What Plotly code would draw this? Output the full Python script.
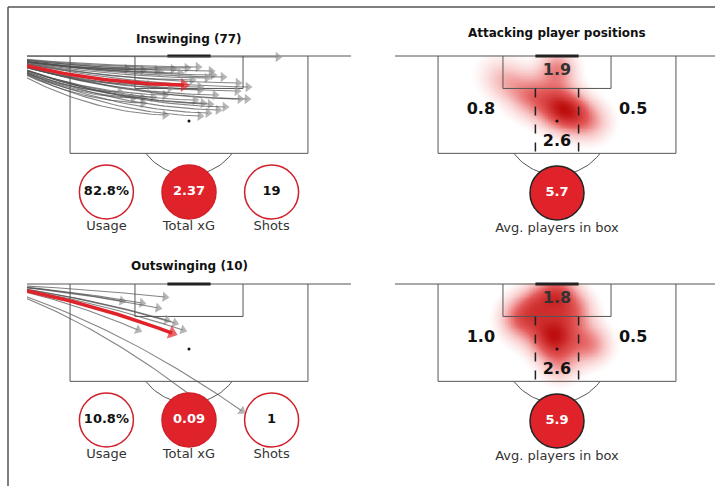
import numpy as np
import plotly.graph_objects as go

W, H = 715, 486
S = 5.9  # px per metre

# ---------------- data ----------------
# Inswinging corners: end points (metres from goal centre, metres from goal line)
in_end_x = [15.08, -10.51, -7.80, -5.42, -2.71, -0.34, 1.53, 3.73, 4.07, 5.76, 3.05, 0.51, 8.31,
            10.0, 1.86, 8.14, 1.86, -4.07, -6.10, -7.80, -9.49, 9.83, 8.64, 1.02, -7.80, 2.37,
            3.56, 4.92, -4.07, 1.86, 3.22, -4.92, -1.53, -6.61, -3.22, -11.69, 4.41, 6.10]
in_end_y = [0.17, 2.20, 2.37, 2.37, 2.20, 2.03, 1.86, 2.54, 3.22, 3.56, 3.73, 4.07, 4.58,
            5.25, 5.25, 5.93, 5.76, 6.61, 6.95, 7.12, 7.12, 7.29, 7.29, 7.46, 7.97, 7.97,
            8.14, 9.15, 10.0, 10.17, 9.66, 2.71, 2.88, 4.92, 5.42, 6.10, 6.61, 8.64]
in_avg_end = [-0.85, 4.92]

# Outswinging corners
out_end_x = [-4.07, -11.36, -7.97, -5.25, -3.73, -2.37, -1.02, -8.64, 1.53, 8.98]
out_end_y = [2.20, 2.88, 3.22, 4.07, 6.10, 6.61, 7.80, 7.80, 19.83, 21.53]
out_avg_end = [-2.88, 8.31]

stat_labels = ["Usage", "Total xG", "Shots"]
in_stats = ["82.8%", "2.37", "19"]
out_stats = ["10.8%", "0.09", "1"]
panel_titles = ["Inswinging (77)", "Outswinging (10)", "Attacking player positions"]

# zone averages: six-yard box, left, right, central
zone_names = ["six", "left", "right", "centre"]
in_zone_vals = [1.9, 0.8, 0.5, 2.6]
out_zone_vals = [1.8, 1.0, 0.5, 2.6]
avg_players = [5.7, 5.9]
avg_label = "Avg. players in box"

# heat hotspots (attacking player density)
in_hot_x = [0.0, 0.3, -8.8, -4.6, 6.0, -11.0, 3.0]
in_hot_y = [2.0, 8.6, 4.1, 6.6, 11.2, 2.5, 10.0]
in_hot_w = [0.65, 1.0, 0.35, 0.65, 0.40, 0.12, 0.55]
in_hot_s = [2.2, 2.6, 2.4, 2.6, 2.4, 3.0, 2.4]

out_hot_x = [0.0, -6.3, -0.7, 5.6, 3.0, 0.5, -3.5]
out_hot_y = [1.5, 5.8, 8.8, 10.2, 4.4, 13.8, 3.0]
out_hot_w = [0.65, 0.6, 1.0, 0.5, 0.45, 0.3, 0.45]
out_hot_s = [2.3, 2.5, 2.8, 2.4, 2.4, 2.2, 2.3]

# pitch geometry (metres)
HALF_W = 34.0
BOX_HW, BOX_D = 20.16, 16.5
SIX_HW, SIX_D = 9.16, 5.5
GOAL_HW = 3.66
SPOT = 11.0
ARC_R = 9.15
STAT_X = [-14.0, 0.0, 14.0]

RED = "#e0232a"
LINE = "#555555"
FONT = "DejaVu Sans"

fig = go.Figure()

# panel definitions: (goal-centre px x, goal line px y, left px, right px, top px, bottom px)
panels = {
    "1": (189, 56, 27, 351, 12, 240),
    "2": (557, 56, 395, 715, 12, 240),
    "3": (189, 284, 27, 351, 240, 468),
    "4": (557, 284, 395, 715, 240, 468),
}

layout_axes = {}
for k, (cx, gy, x0, x1, y0, y1) in panels.items():
    xa = "xaxis" if k == "1" else f"xaxis{k}"
    ya = "yaxis" if k == "1" else f"yaxis{k}"
    layout_axes[xa] = dict(domain=[x0 / W, x1 / W], range=[(x0 - cx) / S, (x1 - cx) / S],
                           visible=False, fixedrange=True, anchor="y" if k == "1" else f"y{k}")
    layout_axes[ya] = dict(domain=[1 - y1 / H, 1 - y0 / H], range=[(y1 - gy) / S, (y0 - gy) / S],
                           visible=False, fixedrange=True, anchor="x" if k == "1" else f"x{k}")


def ax(k):
    return ("x" if k == "1" else f"x{k}"), ("y" if k == "1" else f"y{k}")


def heat(k, hx, hy, hw, hs):
    xa, ya = ax(k)
    gx = np.arange(-17, 17.01, 0.25)
    gyv = np.arange(0, 21.01, 0.25)
    X, Y = np.meshgrid(gx, gyv)
    Z = np.zeros_like(X)
    for a, b, w, s in zip(hx, hy, hw, hs):
        Z += w * np.exp(-((X - a) ** 2 + (Y - b) ** 2) / (2 * s * s))
    Z = Z / Z.max()
    fig.add_trace(go.Heatmap(x=gx, y=gyv, z=Z, xaxis=xa, yaxis=ya, zmin=0.05, zmax=1,
                             zsmooth="best", showscale=False, hoverinfo="skip",
                             colorscale=[[0, "rgba(230,40,40,0)"], [0.25, "rgba(228,40,40,0.25)"],
                                         [0.6, "rgba(215,20,20,0.7)"], [1, "rgba(185,0,0,0.95)"]]))


def pitch(k, dashed=False):
    xa, ya = ax(k)
    ln = dict(color=LINE, width=1)
    def seg(xs, ys, line=ln):
        fig.add_trace(go.Scatter(x=xs, y=ys, mode="lines", line=line, xaxis=xa, yaxis=ya,
                                 hoverinfo="skip", showlegend=False))
    seg([-HALF_W, HALF_W], [0, 0])
    seg([-BOX_HW, -BOX_HW, BOX_HW, BOX_HW], [0, BOX_D, BOX_D, 0])
    seg([-SIX_HW, -SIX_HW, SIX_HW, SIX_HW], [0, SIX_D, SIX_D, 0])
    seg([-GOAL_HW, GOAL_HW], [0, 0], dict(color="#222", width=3))
    # penalty arc outside the box
    dy = BOX_D - SPOT
    a0 = np.arccos(dy / ARC_R)
    th = np.linspace(-a0, a0, 40)
    seg(list(ARC_R * np.sin(th)), list(SPOT + ARC_R * np.cos(th)))
    if dashed:
        for sx in (-GOAL_HW, GOAL_HW):
            seg([sx, sx], [SIX_D, BOX_D], dict(color="#222", width=1.5, dash="dash"))
    fig.add_trace(go.Scatter(x=[0], y=[SPOT], mode="markers", marker=dict(size=3, color="#111"),
                             xaxis=xa, yaxis=ya, hoverinfo="skip", showlegend=False))


def bezier(end, bend):
    sx, sy = -HALF_W, 0.0
    ex, ey = end
    cx, cy = sx + 0.5 * (ex - sx), bend * ey
    t = np.linspace(0, 1, 40)
    x = (1 - t) ** 2 * sx + 2 * t * (1 - t) * cx + t ** 2 * ex
    y = (1 - t) ** 2 * sy + 2 * t * (1 - t) * cy + t ** 2 * ey
    return x, y


def arrows(k, ex, ey, avg, bend):
    xa, ya = ax(k)
    for a, b in zip(ex, ey):
        x, y = bezier((a, b), bend)
        sizes = [0] * (len(x) - 1) + [9]
        fig.add_trace(go.Scatter(x=x, y=y, mode="lines+markers", xaxis=xa, yaxis=ya,
                                 line=dict(color="rgba(80,80,80,0.7)", width=1.1),
                                 marker=dict(symbol="triangle-up", size=sizes, angleref="previous",
                                             color="rgba(145,145,145,0.95)", line=dict(width=0)),
                                 hoverinfo="skip", showlegend=False))
    x, y = bezier(avg, bend)
    sizes = [0] * (len(x) - 1) + [12]
    fig.add_trace(go.Scatter(x=x, y=y, mode="lines+markers", xaxis=xa, yaxis=ya,
                             line=dict(color=RED, width=3.5),
                             marker=dict(symbol="triangle-up", size=sizes, angleref="previous",
                                         color=RED, line=dict(width=0)),
                             hoverinfo="skip", showlegend=False))


def stats(k, vals):
    xa, ya = ax(k)
    fills = ["white", RED, "white"]
    tcols = ["#111", "white", "#111"]
    fig.add_trace(go.Scatter(x=STAT_X, y=[23.05] * 3, mode="markers+text", xaxis=xa, yaxis=ya,
                             marker=dict(size=54, color=fills, line=dict(color="#d0202a", width=1.5)),
                             text=[f"<b>{v}</b>" for v in vals], textposition="middle center",
                             textfont=dict(family=FONT, size=13, color=tcols),
                             cliponaxis=False, hoverinfo="skip", showlegend=False))
    fig.add_trace(go.Scatter(x=STAT_X, y=[29.0] * 3, mode="text", xaxis=xa, yaxis=ya,
                             text=stat_labels, textposition="middle center",
                             textfont=dict(family=FONT, size=13, color="#333"),
                             cliponaxis=False, hoverinfo="skip", showlegend=False))


def zones(k, vals, avg):
    xa, ya = ax(k)
    zx = [0, -12.9, 12.9, 0]
    zy = [2.5, 9.15, 9.15, 14.6]
    fig.add_trace(go.Scatter(x=zx, y=zy, mode="text", xaxis=xa, yaxis=ya,
                             text=[f"<b>{v:.1f}</b>" for v in vals], textposition="middle center",
                             textfont=dict(family=FONT, size=16, color=["#333", "#111", "#111", "#111"]),
                             cliponaxis=False, hoverinfo="skip", showlegend=False))
    fig.add_trace(go.Scatter(x=[0], y=[23.2], mode="markers+text", xaxis=xa, yaxis=ya,
                             marker=dict(size=54, color=RED, line=dict(color="#222", width=1.5)),
                             text=[f"<b>{avg:.1f}</b>"], textposition="middle center",
                             textfont=dict(family=FONT, size=13, color="white"),
                             cliponaxis=False, hoverinfo="skip", showlegend=False))
    fig.add_trace(go.Scatter(x=[0], y=[29.3], mode="text", xaxis=xa, yaxis=ya,
                             text=[avg_label], textposition="middle center",
                             textfont=dict(family=FONT, size=13, color="#333"),
                             cliponaxis=False, hoverinfo="skip", showlegend=False))


# right panels: heat first
heat("2", in_hot_x, in_hot_y, in_hot_w, in_hot_s)
heat("4", out_hot_x, out_hot_y, out_hot_w, out_hot_s)
for k in ("1", "3"):
    pitch(k)
for k in ("2", "4"):
    pitch(k, dashed=True)

arrows("1", in_end_x, in_end_y, in_avg_end, 0.95)
arrows("3", out_end_x, out_end_y, out_avg_end, 0.3)
stats("1", in_stats)
stats("3", out_stats)
zones("2", in_zone_vals, avg_players[0])
zones("4", out_zone_vals, avg_players[1])

annotations = [
    dict(text=f"<b>{panel_titles[0]}</b>", x=0, y=-2.9, xref="x", yref="y", showarrow=False,
         font=dict(family=FONT, size=12, color="#111")),
    dict(text=f"<b>{panel_titles[1]}</b>", x=0, y=-3.05, xref="x3", yref="y3", showarrow=False,
         font=dict(family=FONT, size=12, color="#111")),
    dict(text=f"<b>{panel_titles[2]}</b>", x=0, y=-3.9, xref="x2", yref="y2", showarrow=False,
         font=dict(family=FONT, size=12, color="#111")),
]

shapes = [
    dict(type="line", xref="paper", yref="paper", x0=8 / W, x1=1, y0=1 - 7 / H, y1=1 - 7 / H,
         line=dict(color="#555", width=1.5)),
    dict(type="line", xref="paper", yref="paper", x0=8 / W, x1=8 / W, y0=1 - 7 / H, y1=0,
         line=dict(color="#555", width=1.5)),
]

fig.update_layout(width=W, height=H, margin=dict(l=0, r=0, t=0, b=0),
                  paper_bgcolor="white", plot_bgcolor="rgba(0,0,0,0)",
                  showlegend=False, annotations=annotations, shapes=shapes, **layout_axes)

fig.write_html("out.html", config={"displayModeBar": False},
               post_script="document.body.style.margin='0';document.body.style.overflow='hidden';")
